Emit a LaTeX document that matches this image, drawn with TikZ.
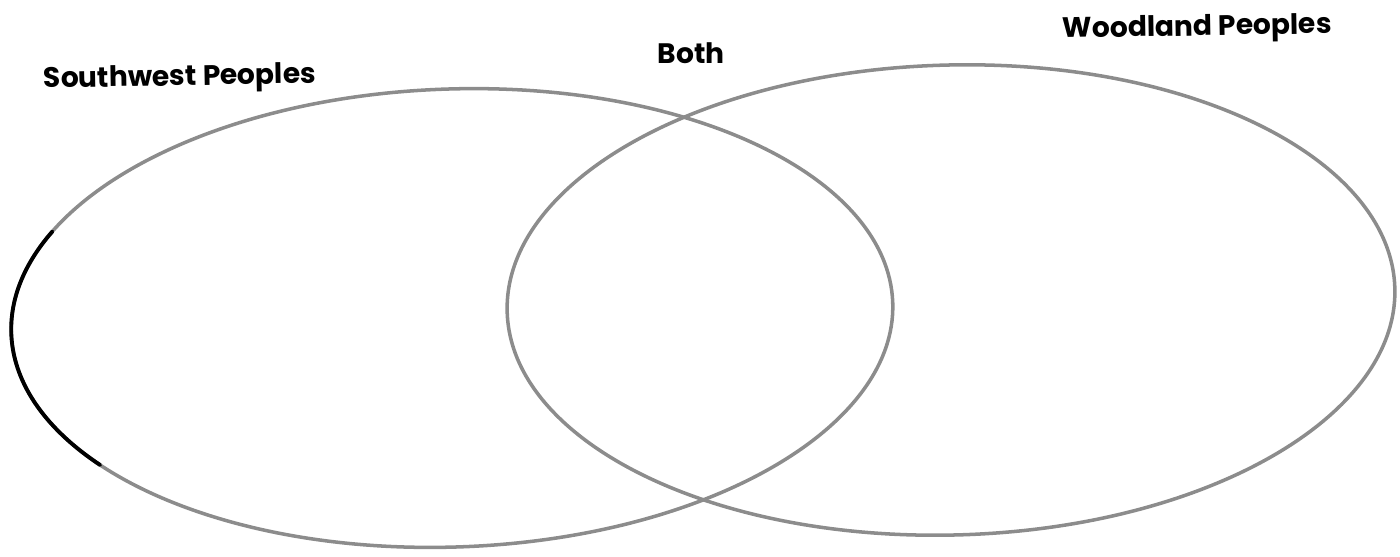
\documentclass[tikz,border=0pt]{standalone}
\usepackage{fontspec}
\newfontfamily\headfont{Poppins}
\usetikzlibrary{positioning}

\begin{document}
\begin{tikzpicture}[
    x=0.01cm, y=0.01cm,
    ring/.style={draw=black!45, line width=1pt},
    rim/.style={draw=black, line width=1.1pt, line cap=round},
    heading/.style={font=\headfont\bfseries\fontsize{8}{10}\selectfont,
                    inner sep=0pt, anchor=base west}
  ]
    \useasboundingbox (0,0) rectangle (1400,556);

    % Centres of the two sets
    \coordinate (sw) at (452,238);
    \coordinate (wl) at (951,256);

    % Southwest set
    \begin{scope}[shift={(sw)}, rotate=2]
      \draw[ring] (0,0) ellipse [x radius=441, y radius=229];
      \draw[rim] (154:441 and 229) arc[start angle=154, end angle=216,
                                       x radius=441, y radius=229];
    \end{scope}

    % Woodland set
    \begin{scope}[shift={(wl)}, rotate=1.5]
      \draw[ring] (0,0) ellipse [x radius=444, y radius=235];
    \end{scope}

    % Headings
    \node[heading, rotate=1] (swlabel) at (43,468) {Southwest Peoples};
    \node[heading] (bothlabel) at (657,493) {Both};
    \node[heading, rotate=1] (wllabel) at (1062,518) {Woodland Peoples};
  \end{tikzpicture}
\end{document}
